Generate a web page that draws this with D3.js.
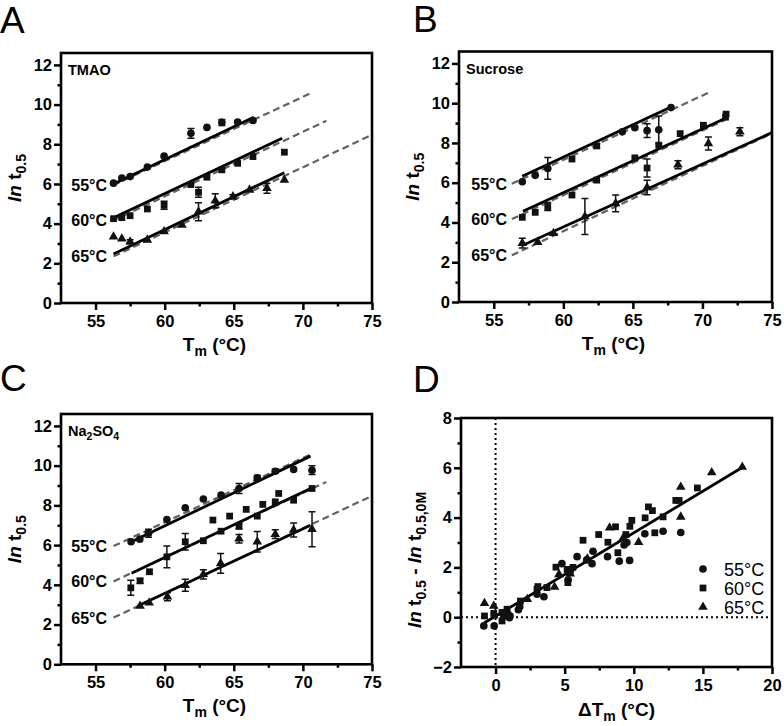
<!DOCTYPE html>
<html><head><meta charset="utf-8">
<script src="https://cdn.jsdelivr.net/npm/d3@7"></script>
<style>
body{margin:0;background:#fff;}
text{font-family:Arial,"Liberation Sans",Helvetica,sans-serif;}
</style></head>
<body>
<svg id="chart" width="784" height="726"></svg>
<script>
// ---------------- DATA ----------------
const temps = ["55°C", "60°C", "65°C"];
const xTicksT = [55, 60, 65, 70, 75];
const xMinorT = [57.5, 62.5, 67.5, 72.5];
const yTicksT = [0, 2, 4, 6, 8, 10, 12];
const yMinorT = [1, 3, 5, 7, 9, 11];
const xTicksD = [0, 5, 10, 15, 20];
const xMinorD = [2.5, 7.5, 12.5, 17.5];
const yTicksD = [-2, 0, 2, 4, 6, 8];
const yMinorD = [-1, 1, 3, 5, 7];

// [Tm, ln t0.5, error]
const tmao55 = [[56.3,6.04,0],[56.9,6.3,0],[57.5,6.37,0],[58.75,6.85,0],[59.96,7.4,0],[61.9,8.55,0.25],[63.06,8.85,0],[64.14,9.1,0.15],[65.28,9.12,0],[66.39,9.2,0]];
const tmao60 = [[56.3,4.25,0],[56.9,4.3,0],[57.5,4.4,0],[58.75,4.74,0],[59.96,4.93,0.2],[61.9,5.97,0],[62.45,5.58,0.25],[63.06,6.34,0],[64.14,6.71,0],[65.28,7.04,0],[66.39,7.38,0],[68.66,7.6,0]];
const tmao65 = [[56.3,3.34,0],[56.9,3.24,0],[57.5,3.09,0.1],[58.75,3.18,0],[59.96,3.6,0],[61.25,3.93,0],[62.45,4.6,0.45],[63.66,5.15,0.35],[64.94,5.36,0.1],[66.14,5.7,0],[67.4,5.78,0.25],[68.66,6.2,0]];
const tmaoFit = [[[56.3,6.0],[66.44,9.36]],[[56.3,4.3],[68.5,8.3]],[[56.3,2.47],[68.66,6.57]]];

const suc55 = [[57.05,6.05,0],[57.98,6.37,0],[58.88,6.72,0.55],[64.24,8.56,0],[65.14,8.77,0],[66.02,8.62,0.35],[66.86,8.66,0.7],[67.74,9.78,0]];
const suc60 = [[57.05,4.26,0],[57.98,4.51,0],[58.88,4.8,0.2],[60.62,5.38,0],[60.62,7.19,0],[62.4,6.13,0],[62.4,7.85,0.1],[65.14,7.25,0],[66.02,6.74,0.45],[66.86,7.89,0],[68.4,8.47,0],[70.07,8.89,0],[71.66,9.3,0],[71.7,9.45,0]];
const suc65 = [[57.05,2.96,0.25],[58.16,3.01,0],[59.29,3.46,0],[61.55,4.3,0.9],[63.76,4.96,0.42],[66.02,5.76,0.37],[68.24,6.9,0.2],[70.43,7.97,0.33],[72.69,8.56,0.2]];
const sucFit = [[[57.05,6.32],[67.74,9.81]],[[57.1,4.56],[71.66,9.24]],[[57.05,2.84],[75,8.52]]];

const na55 = [[57.57,6.17,0],[58.2,6.3,0],[58.83,6.6,0.2],[60.16,7.29,0],[61.49,7.88,0],[62.8,8.32,0],[64.08,8.52,0],[65.38,8.85,0.25],[66.7,9.39,0.12],[68.0,9.72,0.1],[69.33,9.81,0],[70.66,9.77,0.22]];
const na60 = [[57.55,3.85,0.38],[58.22,4.2,0.12],[58.9,4.66,0.1],[60.16,5.41,0.55],[61.49,6.17,0.42],[62.8,6.22,0],[63.49,7.26,0],[64.08,6.7,0],[64.7,7.46,0],[65.38,6.96,0.15],[65.9,7.8,0],[66.7,7.46,0],[67.1,8.05,0],[68.0,8.18,0],[68.25,8.6,0],[69.33,8.26,0],[70.66,8.85,0]];
const na65 = [[58.22,2.93,0],[58.88,3.1,0],[60.2,3.4,0.2],[61.49,3.98,0.3],[62.8,4.53,0.23],[64.05,5.08,0.5],[65.38,6.32,0.22],[66.7,6.17,0.52],[68.0,6.55,0.22],[69.33,6.76,0.35],[70.66,6.8,0.88]];
const naFit = [[[57.6,6.17],[70.55,10.48]],[[57.6,4.58],[70.55,8.85]],[[58.2,2.98],[70.55,7.0]]];

// global (dashed) fits, same in every panel
const globalFit = [[[56.3,5.95],[70.5,10.55]],[[56.3,4.17],[71.7,9.18]],[[56.3,2.35],[75,8.48]]];

// panel D: [ΔTm, ln t0.5 - ln t0.5,0M]
const d55 = [[-0.85,-0.35],[-0.1,-0.35],[0.6,0.05],[1.05,0.05],[1.0,-0.02],[1.65,0.3],[1.75,0.42],[3.0,0.92],[3.5,0.82],[4.8,2.15],[5.25,1.5],[5.4,1.85],[5.9,2.43],[6.6,2.3],[6.98,2.15],[7.05,2.65],[8.1,2.43],[8.95,2.25],[9.3,2.9],[9.5,3.0],[9.7,2.28],[10.8,3.35],[12.12,3.45],[13.4,3.4]];
const d60 = [[-0.8,0.05],[-0.13,0.15],[0.47,-0.15],[0.47,0.19],[0.83,0.32],[1.8,0.65],[3.0,1.12],[3.06,1.23],[3.72,1.19],[4.37,2.01],[5.18,1.92],[5.23,1.39],[5.6,2.0],[6.33,3.09],[7.46,3.32],[8.13,3.01],[8.68,3.63],[8.85,2.59],[9.43,3.32],[9.72,3.65],[9.86,3.89],[10.82,3.99],[11.06,4.43],[11.35,4.28],[11.52,3.39],[12.12,4.03],[13.04,4.69],[13.28,4.69],[14.6,5.19]];
const d65 = [[-0.8,0.56],[-0.13,0.45],[0.9,0.2],[2.3,0.72],[4.27,1.21],[4.59,1.72],[5.4,1.75],[6.64,2.35],[8.25,3.59],[9.2,3.15],[10.35,3.01],[13.4,5.23],[13.4,4.03],[15.64,5.81],[17.85,6.03]];
const dFit = [[-0.8,-0.22],[17.9,6.03]];

// ---------------- DRAW ----------------
const svg = d3.select("#chart");
const FONT = 'Arial,"Liberation Sans",sans-serif';
const markerShapes = [d3.symbolCircle, d3.symbolSquare, d3.symbolTriangle];
const markerSizes = [46, 46, 40];

function frame(p) {
  const x = d3.scaleLinear().domain(p.xd).range([p.l, p.r]);
  const y = d3.scaleLinear().domain(p.yd).range([p.b, p.t]);
  const g = svg.append("g");
  // minor ticks
  g.append("g").attr("transform", `translate(${p.l},0)`)
    .call(d3.axisLeft(y).tickValues(p.yMinor).tickSize(3.5).tickFormat("").tickSizeOuter(0));
  g.append("g").attr("transform", `translate(0,${p.b})`)
    .call(d3.axisBottom(x).tickValues(p.xMinor).tickSize(3.5).tickFormat("").tickSizeOuter(0));
  // major
  g.append("g").attr("class","ya").attr("transform", `translate(${p.l},0)`)
    .call(d3.axisLeft(y).tickValues(p.yTicks).tickSize(7).tickPadding(2).tickSizeOuter(0));
  g.append("g").attr("class","xa").attr("transform", `translate(0,${p.b})`)
    .call(d3.axisBottom(x).tickValues(p.xTicks).tickSize(7).tickPadding(5).tickSizeOuter(0));
  g.selectAll(".domain").remove();
  g.selectAll(".tick line").attr("stroke", "#000").attr("stroke-width", 2.5);
  g.selectAll(".tick text").attr("font-family", FONT).attr("font-size", 16.5)
    .attr("font-weight", "bold").attr("fill", "#000");
  // box
  g.append("rect").attr("x", p.l).attr("y", p.t).attr("width", p.r - p.l).attr("height", p.b - p.t)
    .attr("fill", "none").attr("stroke", "#000").attr("stroke-width", 2.6);
  // panel letter
  svg.append("text").attr("x", p.lx).attr("y", p.ly).text(p.letter)
    .attr("font-size", 37).attr("font-family", FONT).attr("fill", "#000");
  return {x, y, g};
}

function yTitleSimple(p, cx, cy) {
  const t = svg.append("text").attr("transform", `translate(${cx},${cy}) rotate(-90)`)
    .attr("text-anchor", "middle").attr("font-family", FONT).attr("font-size", 19)
    .attr("font-weight", "bold").attr("fill", "#000");
  t.append("tspan").attr("font-style", "italic").text("ln");
  t.append("tspan").text(" t");
  t.append("tspan").attr("font-size", 14).attr("dy", 5).text("0.5");
}

function xTitleTm(cx, by, delta) {
  const t = svg.append("text").attr("x", cx).attr("y", by).attr("text-anchor", "middle")
    .attr("font-family", FONT).attr("font-size", 19).attr("font-weight", "bold").attr("fill", "#000");
  t.append("tspan").text(delta ? "ΔT" : "T");
  t.append("tspan").attr("font-size", 14).attr("dy", 5).text("m");
  t.append("tspan").attr("dy", -5).text(" (°C)");
}

function tempPanel(p, series, fits, name, nameSub) {
  const {x, y, g} = frame(p);
  const line = d3.line().x(d => x(d[0])).y(d => y(d[1]));
  // dashed global fits
  g.selectAll(".gf").data(globalFit).join("path").attr("d", line)
    .attr("stroke", "#5e6466").attr("stroke-width", 2.2).attr("stroke-dasharray", "7,4").attr("fill", "none");
  // solid fits
  g.selectAll(".sf").data(fits).join("path").attr("d", line)
    .attr("stroke", "#000").attr("stroke-width", 2.8).attr("fill", "none");
  // temp labels
  temps.forEach((tl, i) => {
    g.append("text").attr("x", p.labX).attr("y", y(globalFit[i][0][1]) + p.labDy)
      .attr("text-anchor", "end").attr("font-family", FONT).attr("font-size", 16)
      .attr("font-weight", "bold").attr("fill", "#000").text(tl);
  });
  series.forEach((s, i) => {
    const eb = s.filter(d => d[2] > 0);
    g.selectAll(null).data(eb).join("path")
      .attr("d", d => {
        const X = x(d[0]), y1 = y(d[1] - d[2]), y2 = y(d[1] + d[2]);
        return `M${X},${y1}V${y2}M${X-3.5},${y1}H${X+3.5}M${X-3.5},${y2}H${X+3.5}`;
      })
      .attr("stroke", "#111").attr("stroke-width", 1.5).attr("fill", "none");
    g.selectAll(null).data(s).join("path")
      .attr("transform", d => `translate(${x(d[0])},${y(d[1])})`)
      .attr("d", d3.symbol().type(markerShapes[i]).size(markerSizes[i]))
      .attr("fill", "#111");
  });
  // cosolute label
  const t = g.append("text").attr("x", p.l + 7).attr("y", p.t + 22).attr("font-family", FONT)
    .attr("font-size", 14.5).attr("font-weight", "bold").attr("fill", "#000");
  if (nameSub) {
    t.append("tspan").text("Na");
    t.append("tspan").attr("font-size", 10.5).attr("dy", 4).text("2");
    t.append("tspan").attr("dy", -4).text("SO");
    t.append("tspan").attr("font-size", 10.5).attr("dy", 4).text("4");
  } else t.text(name);
  yTitleSimple(p, p.l - 40, (p.t + p.b) / 2);
  xTitleTm((p.l + p.r) / 2 - 2, p.b + 48, false);
}

tempPanel({l:61, r:372, t:53, b:303, xd:[52.5,75], yd:[0,12.6], xTicks:xTicksT, xMinor:xMinorT,
  yTicks:yTicksT, yMinor:yMinorT, letter:"A", lx:0, ly:33, labX:107, labDy:6},
  [tmao55, tmao60, tmao65], tmaoFit, "TMAO", false);
tempPanel({l:459, r:772, t:51.5, b:302, xd:[52.5,75], yd:[0,12.6], xTicks:xTicksT, xMinor:xMinorT,
  yTicks:yTicksT, yMinor:yMinorT, letter:"B", lx:413, ly:32, labX:507, labDy:6},
  [suc55, suc60, suc65], sucFit, "Sucrose", false);
tempPanel({l:61, r:372, t:414, b:664.3, xd:[52.5,75], yd:[0,12.6], xTicks:xTicksT, xMinor:xMinorT,
  yTicks:yTicksT, yMinor:yMinorT, letter:"C", lx:0, ly:391, labX:107, labDy:6},
  [na55, na60, na65], naFit, "", true);

// Panel D
(function(){
  const p = {l:461, r:772, t:418, b:667, xd:[-2.5,20], yd:[-2,8], xTicks:xTicksD, xMinor:xMinorD,
    yTicks:yTicksD, yMinor:yMinorD, letter:"D", lx:413, ly:392};
  const {x, y, g} = frame(p);
  // dotted zero lines
  g.append("line").attr("x1", x(0)).attr("x2", x(0)).attr("y1", p.t).attr("y2", p.b)
    .attr("stroke", "#000").attr("stroke-width", 2).attr("stroke-dasharray", "2,3");
  g.append("line").attr("x1", p.l).attr("x2", p.r).attr("y1", y(0)).attr("y2", y(0))
    .attr("stroke", "#000").attr("stroke-width", 2).attr("stroke-dasharray", "2,3");
  const line = d3.line().x(d => x(d[0])).y(d => y(d[1]));
  g.append("path").datum(dFit).attr("d", line).attr("stroke", "#000").attr("stroke-width", 2.8).attr("fill", "none");
  [d55, d60, d65].forEach((s, i) => {
    g.selectAll(null).data(s).join("path")
      .attr("transform", d => `translate(${x(d[0])},${y(d[1])})`)
      .attr("d", d3.symbol().type(markerShapes[i]).size(markerSizes[i]))
      .attr("fill", "#111");
  });
  // legend
  temps.forEach((tl, i) => {
    const ly = 569 + i * 19;
    g.append("path").attr("transform", `translate(703,${ly})`)
      .attr("d", d3.symbol().type(markerShapes[i]).size(markerSizes[i])).attr("fill", "#111");
    g.append("text").attr("x", 724).attr("y", ly + 6.5).attr("font-family", FONT)
      .attr("font-size", 18).attr("fill", "#000").text(tl);
  });
  // y title
  const t = svg.append("text").attr("transform", `translate(${p.l - 40},${560}) rotate(-90)`)
    .attr("text-anchor", "middle").attr("font-family", FONT).attr("font-size", 19)
    .attr("font-weight", "bold").attr("fill", "#000");
  t.append("tspan").attr("font-style", "italic").text("ln");
  t.append("tspan").text(" t");
  t.append("tspan").attr("font-size", 14).attr("dy", 5).text("0.5");
  t.append("tspan").attr("dy", -5).text(" - ");
  t.append("tspan").attr("font-style", "italic").text("ln");
  t.append("tspan").text(" t");
  t.append("tspan").attr("font-size", 14).attr("dy", 5).text("0.5,0M");
  xTitleTm((p.l + p.r) / 2, p.b + 49, true);
})();
</script>
</body></html>
